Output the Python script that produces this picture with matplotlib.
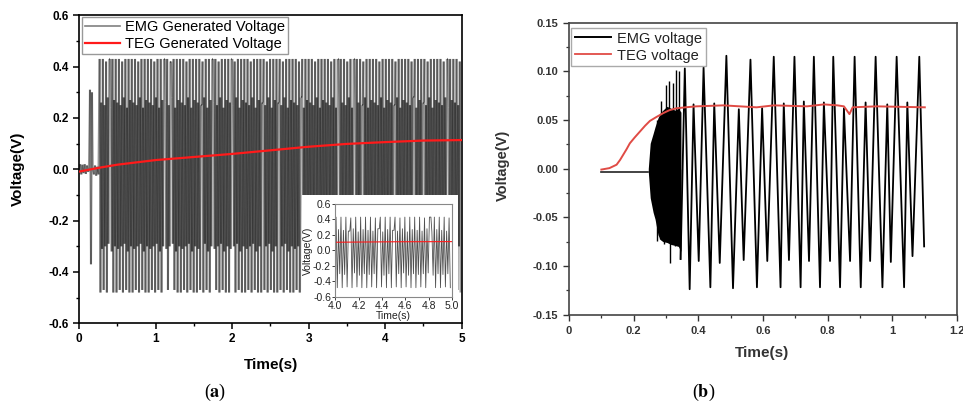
import numpy as np
import matplotlib
matplotlib.use("Agg")
import matplotlib.pyplot as plt
from matplotlib import ticker
from matplotlib.patches import Rectangle
from matplotlib.collections import LineCollection

plt.rcParams['font.family'] = ['Liberation Sans', 'DejaVu Sans']
plt.rcParams['mathtext.fontset'] = 'stix'

# ---------------- Panel (a): EMG / TEG generated voltage, 0-5 s ----------------
# lead-in before the EMG settles into its steady oscillation (s, V)
emg_a_lead_t = [0.0, 0.015, 0.03, 0.045, 0.06, 0.075, 0.09, 0.105, 0.12, 0.13,
                0.144, 0.157, 0.170, 0.18, 0.195, 0.21, 0.225, 0.24, 0.255]
emg_a_lead_v = [-0.01, 0.02, -0.02, 0.018, -0.015, 0.02, -0.018, 0.015, -0.01, 0.0,
                0.31, -0.37, 0.30, 0.0, -0.02, 0.015, -0.025, 0.01, -0.02]
# steady part: peak / trough of successive cycles (pattern)
emg_a_cycle_hi = [0.43, 0.26, 0.43, 0.25, 0.42, 0.28, 0.43, 0.24, 0.43, 0.27]
emg_a_cycle_lo = [-0.48, -0.31, -0.47, -0.30, -0.48, -0.29, -0.47, -0.32, -0.48, -0.30]
emg_a_start = 0.27
emg_a_end = 5.0
emg_a_period = 0.021
# moments where the EMG trace pauses (the white stripes)
emg_a_gaps = [0.405, 1.10, 1.20, 1.60, 1.75, 1.99, 2.39, 2.60, 2.89,
              3.37, 3.58, 3.69, 4.11, 4.37, 4.50, 4.80]

teg_a_t = [0.0, 0.26, 0.5, 1.0, 1.5, 2.0, 2.5, 3.0, 3.5, 4.0, 4.5, 5.0]
teg_a_v = [-0.009, 0.006, 0.018, 0.036, 0.048, 0.060, 0.074, 0.088, 0.099, 0.106, 0.112, 0.114]

# ---------------- Panel (b): EMG / TEG voltage, 0-1.2 s ----------------
emg_b_flat_t = [0.10, 0.245]
emg_b_flat_v = [-0.003, -0.003]
# dense burst between 0.245 and 0.35 s: upper / lower envelope
burst_t = [0.245, 0.251, 0.26, 0.266, 0.275, 0.282, 0.29, 0.303, 0.315, 0.328, 0.338, 0.346]
burst_hi = [0.0, 0.026, 0.036, 0.043, 0.052, 0.057, 0.060, 0.064, 0.062, 0.060, 0.062, 0.058]
burst_lo = [-0.003, -0.030, -0.045, -0.052, -0.068, -0.073, -0.075, -0.076, -0.078, -0.079, -0.080, -0.085]
# spikes standing out of the burst
burst_spike_t = [0.262, 0.272, 0.285, 0.30, 0.31, 0.32, 0.332, 0.34,
                 0.272, 0.282, 0.295, 0.313, 0.328, 0.343]
burst_spike_v = [0.03, 0.05, 0.069, 0.086, 0.09, 0.088, 0.101, 0.10,
                 -0.074, -0.072, -0.078, -0.097, -0.08, -0.093]
# steady oscillation: successive extrema
emg_b_t = [0.345, 0.358, 0.373, 0.385, 0.401, 0.416, 0.437, 0.449, 0.466, 0.4865,
           0.507, 0.525, 0.540, 0.561, 0.581, 0.597, 0.613, 0.633, 0.654, 0.664,
           0.680, 0.697, 0.716, 0.726, 0.742, 0.757, 0.776, 0.788, 0.807, 0.817,
           0.838, 0.850, 0.869, 0.883, 0.902, 0.917, 0.931, 0.948, 0.969, 0.984,
           0.995, 1.013, 1.036, 1.046, 1.062, 1.083, 1.098]
emg_b_v = [-0.093, 0.103, -0.124, 0.066, -0.095, 0.104, -0.122, 0.067, -0.097, 0.116,
           -0.123, 0.061, -0.094, 0.112, -0.122, 0.062, -0.095, 0.115, -0.122, 0.067,
           -0.094, 0.115, -0.122, 0.069, -0.095, 0.115, -0.122, 0.068, -0.095, 0.115,
           -0.122, 0.062, -0.095, 0.115, -0.122, 0.068, -0.095, 0.115, -0.122, 0.066,
           -0.096, 0.115, -0.122, 0.068, -0.090, 0.115, -0.080]

teg_b_t = [0.10, 0.125, 0.147, 0.158, 0.168, 0.178, 0.188, 0.203, 0.219, 0.235, 0.25,
           0.27, 0.291, 0.31, 0.332, 0.36, 0.394, 0.477, 0.58, 0.633, 0.736, 0.788,
           0.83, 0.85, 0.867, 0.877, 0.95, 1.1]
teg_b_v = [-0.001, 0.0005, 0.004, 0.009, 0.0145, 0.020, 0.026, 0.032, 0.038, 0.044, 0.049,
           0.053, 0.057, 0.060, 0.062, 0.063, 0.064, 0.065, 0.063, 0.065, 0.064, 0.066,
           0.065, 0.064, 0.056, 0.063, 0.064, 0.063]


def build_emg_a():
    """Lead-in followed by the repeating cycle pattern, holding at the gaps."""
    t_vals = list(emg_a_lead_t)
    v_vals = list(emg_a_lead_v)
    gaps = np.array(emg_a_gaps)
    n_cycles = int(round((emg_a_end - emg_a_start) / emg_a_period))
    for k in range(n_cycles):
        t0 = emg_a_start + k * emg_a_period
        hi = emg_a_cycle_hi[k % len(emg_a_cycle_hi)]
        lo = emg_a_cycle_lo[k % len(emg_a_cycle_lo)]
        if np.any(np.abs(gaps - t0) < emg_a_period / 2):
            # trace holds for one cycle -> white stripe
            t_vals += [t0, t0 + emg_a_period * 0.6]
            v_vals += [hi, hi]
            continue
        t_vals += [t0, t0 + emg_a_period / 2]
        v_vals += [hi, lo]
    return np.array(t_vals), np.array(v_vals)


def plot_panel_a(fig):
    ax = fig.add_axes([0.082, 0.1977, 0.3975, 0.7643])
    t, v = build_emg_a()
    # separate segments so that overlapping strokes build up darker grey
    pts = np.column_stack([t, v])
    segs = np.stack([pts[:-1], pts[1:]], axis=1)
    ax.add_collection(LineCollection(segs, colors='black', alpha=0.4,
                                     linewidths=1.5, zorder=2))
    ax.plot(teg_a_t, teg_a_v, color='#ff1a1a', lw=1.6, zorder=6)

    ax.set_xlim(0, 5)
    ax.set_ylim(-0.6, 0.6)
    ax.xaxis.set_major_locator(ticker.MultipleLocator(1))
    ax.xaxis.set_minor_locator(ticker.MultipleLocator(0.5))
    ax.yaxis.set_major_locator(ticker.MultipleLocator(0.2))
    ax.yaxis.set_minor_locator(ticker.MultipleLocator(0.1))
    ax.yaxis.set_major_formatter(ticker.FormatStrFormatter('%.1f'))
    ax.tick_params(which='major', length=4, width=1.1, labelsize=8.5, pad=3)
    ax.tick_params(which='minor', length=2.5, width=1.0)
    for lab in ax.get_xticklabels() + ax.get_yticklabels():
        lab.set_fontweight('bold')
    for sp in ax.spines.values():
        sp.set_linewidth(1.2)

    # legend
    h1, = ax.plot([], [], color='#808080', lw=1.2)
    h2, = ax.plot([], [], color='#ff1a1a', lw=1.6)
    leg = ax.legend([h1, h2], ['EMG Generated Voltage', 'TEG Generated Voltage'],
                    loc='upper left', bbox_to_anchor=(0.007, 0.993), borderaxespad=0,
                    fontsize=10.5, handlelength=2.4, handletextpad=0.35,
                    labelspacing=0.2, borderpad=0.2, fancybox=False, framealpha=1)
    leg.get_frame().set_edgecolor('#999999')
    leg.get_frame().set_linewidth(1.0)
    leg.set_zorder(10)

    # white area behind the inset
    ax.add_patch(Rectangle((0.583, 0.004), 0.407, 0.413, transform=ax.transAxes,
                           facecolor='white', edgecolor='none', zorder=5))

    # inset: zoom on 4-5 s
    axi = fig.add_axes([0.348, 0.263, 0.1215, 0.231])
    axi.plot(t, v, color='#505050', lw=0.6)
    axi.plot(teg_a_t, teg_a_v, color='#ff1a1a', lw=0.8)
    axi.set_xlim(4.0, 5.0)
    axi.set_ylim(-0.6, 0.6)
    axi.xaxis.set_major_locator(ticker.MultipleLocator(0.2))
    axi.yaxis.set_major_locator(ticker.MultipleLocator(0.2))
    axi.xaxis.set_major_formatter(ticker.FormatStrFormatter('%.1f'))
    axi.yaxis.set_major_formatter(ticker.FormatStrFormatter('%.1f'))
    axi.tick_params(length=2, width=0.6, labelsize=7.5, pad=1, colors='#222222')
    for sp in axi.spines.values():
        sp.set_color('#888888')
        sp.set_linewidth(0.8)
    axi.set_xlabel('Time(s)', fontsize=7.5, labelpad=0, color='#222222')
    axi.set_ylabel('Voltage(V)', fontsize=7.5, labelpad=0, color='#222222')

    fig.text(18 / 963, 1 - 169 / 403, 'Voltage(V)', rotation=90, ha='center',
             va='center', fontsize=11, fontweight='bold')
    fig.text(271 / 963, 1 - 365 / 403, 'Time(s)', ha='center', va='center',
             fontsize=11, fontweight='bold')
    fig.text(215 / 963, 1 - 392 / 403, r'($\mathbf{a}$)', ha='center', va='center',
             fontsize=13, family='Liberation Serif')


def plot_panel_b(fig):
    ax = fig.add_axes([0.5909, 0.2196, 0.4030, 0.7241])
    ax.plot(emg_b_flat_t, emg_b_flat_v, color='#222222', lw=1.2)
    ax.fill_between(burst_t, burst_lo, burst_hi, color='black', lw=0)
    ax.vlines(burst_spike_t, 0, burst_spike_v, color='black', lw=1.0)
    ax.plot(emg_b_t, emg_b_v, color='black', lw=1.3)
    ax.plot(teg_b_t, teg_b_v, color='#e04b45', lw=1.4)

    ax.set_xlim(0, 1.2)
    ax.set_ylim(-0.15, 0.15)
    ax.xaxis.set_major_locator(ticker.MultipleLocator(0.2))
    ax.xaxis.set_minor_locator(ticker.MultipleLocator(0.1))
    ax.yaxis.set_major_locator(ticker.MultipleLocator(0.05))
    ax.yaxis.set_minor_locator(ticker.MultipleLocator(0.025))
    ax.xaxis.set_major_formatter(ticker.FuncFormatter(lambda x, _: f'{x:g}'))
    ax.yaxis.set_major_formatter(ticker.FormatStrFormatter('%.2f'))
    ax.tick_params(which='major', length=4, width=1.0, labelsize=8, pad=4,
                   colors='#333333')
    ax.tick_params(which='minor', length=2.5, width=0.9, colors='#333333')
    for lab in ax.get_xticklabels() + ax.get_yticklabels():
        lab.set_fontweight('bold')
    for sp in ax.spines.values():
        sp.set_color('#444444')
        sp.set_linewidth(1.2)

    h1, = ax.plot([], [], color='black', lw=1.4)
    h2, = ax.plot([], [], color='#e04b45', lw=1.3)
    leg = ax.legend([h1, h2], ['EMG voltage', 'TEG voltage'],
                    loc='upper left', bbox_to_anchor=(0.005, 0.982), borderaxespad=0,
                    fontsize=10.5, handlelength=2.5, handletextpad=0.4,
                    labelspacing=0.2, borderpad=0.25, fancybox=False, framealpha=1)
    leg.get_frame().set_edgecolor('#aaaaaa')
    leg.get_frame().set_linewidth(1.0)
    for txt in leg.get_texts():
        txt.set_color('#222222')

    fig.text(502.5 / 963, 1 - 165 / 403, 'Voltage(V)', rotation=90, ha='center',
             va='center', fontsize=10.5, fontweight='bold', color='#333333')
    fig.text(762 / 963, 1 - 353 / 403, 'Time(s)', ha='center', va='center',
             fontsize=11, fontweight='bold', color='#333333')
    fig.text(704 / 963, 1 - 392 / 403, r'($\mathbf{b}$)', ha='center', va='center',
             fontsize=13, family='Liberation Serif')


def main():
    fig = plt.figure(figsize=(9.63, 4.03), dpi=100)
    plot_panel_a(fig)
    plot_panel_b(fig)
    fig.savefig('out.png', dpi=100)
    print("Saved out.png")


if __name__ == "__main__":
    main()
